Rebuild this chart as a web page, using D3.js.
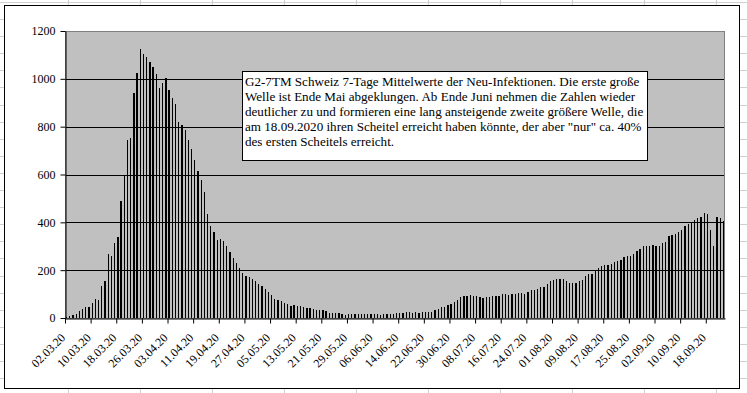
<!DOCTYPE html>
<html><head><meta charset="utf-8">
<script src="https://cdn.jsdelivr.net/npm/d3@7/dist/d3.min.js"></script>
<style>body{margin:0;background:#fff}svg{display:block}</style>
</head><body>
<svg id="c" width="747" height="393"></svg>
<script>
// ---- data ----
const startDate = "2020-03-02";
const values = [
  4, 8, 14, 18, 29, 38, 46, 46, 61, 78,
  75, 134, 154, 267, 260, 313, 339, 488, 596, 744,
  754, 941, 1026, 1125, 1105, 1091, 1072, 1050, 1022, 963,
  984, 1003, 955, 920, 895, 819, 808, 786, 744, 706,
  659, 614, 577, 527, 433, 383, 358, 326, 329, 321,
  303, 275, 250, 229, 211, 187, 175, 171, 163, 154,
  142, 134, 120, 110, 97, 80, 74, 69, 64, 57,
  51, 54, 50, 50, 45, 43, 42, 36, 34, 33,
  33, 28, 22, 20, 21, 21, 17, 14, 17, 17,
  17, 17, 17, 17, 17, 17, 17, 17, 13, 17,
  17, 17, 17, 21, 21, 21, 25, 25, 21, 25,
  21, 25, 25, 25, 25, 33, 38, 46, 47, 53,
  57, 67, 75, 88, 92, 92, 96, 92, 92, 88,
  83, 88, 88, 90, 92, 92, 100, 100, 97, 100,
  100, 104, 104, 100, 108, 117, 118, 122, 128, 129,
  143, 154, 158, 163, 163, 161, 156, 146, 146, 146,
  153, 160, 175, 183, 183, 199, 208, 217, 221, 221,
  226, 233, 239, 243, 254, 258, 258, 267, 281, 288,
  300, 300, 300, 304, 300, 300, 313, 317, 342, 346,
  350, 361, 367, 383, 393, 403, 408, 417, 421, 438,
  433, 367, 300, 421, 417, 404
];
const tickLabels = [
  "02.03.20","10.03.20","18.03.20","26.03.20","03.04.20","11.04.20","19.04.20",
  "27.04.20","05.05.20","13.05.20","21.05.20","29.05.20","06.06.20","14.06.20",
  "22.06.20","30.06.20","08.07.20","16.07.20","24.07.20","01.08.20","09.08.20",
  "17.08.20","25.08.20","02.09.20","10.09.20","18.09.20"
];
const tickEvery = 8;
const yTicks = [0, 200, 400, 600, 800, 1000, 1200];
const noteLines = [
  "G2-7TM Schweiz 7-Tage Mittelwerte der Neu-Infektionen. Die erste große",
  "Welle ist Ende Mai abgeklungen. Ab Ende Juni nehmen die Zahlen wieder",
  "deutlicher zu und formieren eine lang ansteigende zweite größere Welle, die",
  "am 18.09.2020 ihren Scheitel erreicht haben könnte, der aber \"nur\" ca. 40%",
  "des ersten Scheitels erreicht."
];

// ---- build ----
const parse = d3.timeParse("%Y-%m-%d");
const fmt = d3.timeFormat("%d.%m.%y");
const start = parse(startDate);
const categories = values.map((v, i) => fmt(d3.timeDay.offset(start, i)));

const W = 747, H = 393;
const svg = d3.select("#c");
const font = "'Liberation Serif','Times New Roman',serif";

// spreadsheet background grid
const bg = svg.append("g").attr("stroke", "#d0d0d0").attr("stroke-width", 1).attr("shape-rendering", "crispEdges");
d3.range(0, 11).forEach(k => {
  const x = 68 + 72 * k + 0.5;
  bg.append("line").attr("x1", x).attr("x2", x).attr("y1", 0).attr("y2", H);
});
d3.range(0, 24).forEach(k => {
  const y = Math.round(1.9 + 17.1 * k) + 0.5;
  bg.append("line").attr("x1", 0).attr("x2", W).attr("y1", y).attr("y2", y);
});

// chart area
svg.append("rect").attr("x", 4.5).attr("y", 5.5).attr("width", 735).attr("height", 383)
  .attr("fill", "#fff").attr("stroke", "#000").attr("stroke-width", 1);

const L = 65, R = 725, T = 31, B = 318;

const x = d3.scaleBand().domain(categories).range([L, R]).paddingInner(0.6).paddingOuter(0.3);
const xb = d3.scaleLinear().domain([0, categories.length]).range([L, R]);
const y = d3.scaleLinear().domain([0, 1200]).range([B, T]);

// plot area
svg.append("rect").attr("x", L).attr("y", T).attr("width", R - L).attr("height", B - T)
  .attr("fill", "#c0c0c0");

// gridlines
svg.append("g").selectAll("line").data(yTicks.filter(v => v > 0 && v < 1200)).join("line")
  .attr("x1", L).attr("x2", R)
  .attr("y1", d => Math.round(y(d)) + 0.5).attr("y2", d => Math.round(y(d)) + 0.5)
  .attr("stroke", "#000").attr("stroke-width", 1);

// plot border
svg.append("rect").attr("x", L + 0.5).attr("y", T + 0.5).attr("width", R - L - 1).attr("height", B - T)
  .attr("fill", "none").attr("stroke", "#808080").attr("stroke-width", 1);

// bars
svg.append("g").attr("shape-rendering", "crispEdges").selectAll("rect").data(values).join("rect")
  .attr("x", (d, i) => x(categories[i]))
  .attr("width", x.bandwidth())
  .attr("y", d => y(d))
  .attr("height", d => B - y(d))
  .attr("fill", "#000");

// y axis
const ya = svg.append("g").attr("transform", `translate(${L + 0.5},0)`)
  .call(d3.axisLeft(y).tickValues(yTicks).tickFormat(d3.format("d")).tickSize(5).tickPadding(5).tickSizeOuter(0));
ya.select(".domain").attr("stroke", "#000");
ya.selectAll(".tick line").attr("stroke", "#000");
ya.selectAll("text").attr("font-family", font).attr("font-size", 12).attr("fill", "#000");

// x axis
const tickIdx = tickLabels.map((t, k) => k * tickEvery);
const xa = svg.append("g").attr("transform", `translate(0,${B + 0.5})`)
  .call(d3.axisBottom(xb).tickValues(tickIdx).tickFormat((d, k) => tickLabels[k]).tickSize(5).tickSizeOuter(0));
xa.select(".domain").attr("stroke", "#000");
xa.selectAll(".tick line").attr("stroke", "#000");
xa.selectAll("text")
  .attr("font-family", font).attr("font-size", 12).attr("fill", "#000")
  .attr("text-anchor", "end")
  .attr("y", 0).attr("dy", 0)
  .attr("transform", "translate(0.5,20) rotate(-45)");

// note box
const note = svg.append("g");
note.append("rect").attr("x", 242.5).attr("y", 71.5).attr("width", 405).attr("height", 89)
  .attr("fill", "#fff").attr("stroke", "#000").attr("stroke-width", 1);
note.selectAll("text").data(noteLines).join("text")
  .attr("x", 245).attr("y", (d, i) => 86 + i * 15)
  .attr("font-family", font).attr("font-size", 13.1).attr("fill", "#000")
  .text(d => d);
</script>
</body></html>
